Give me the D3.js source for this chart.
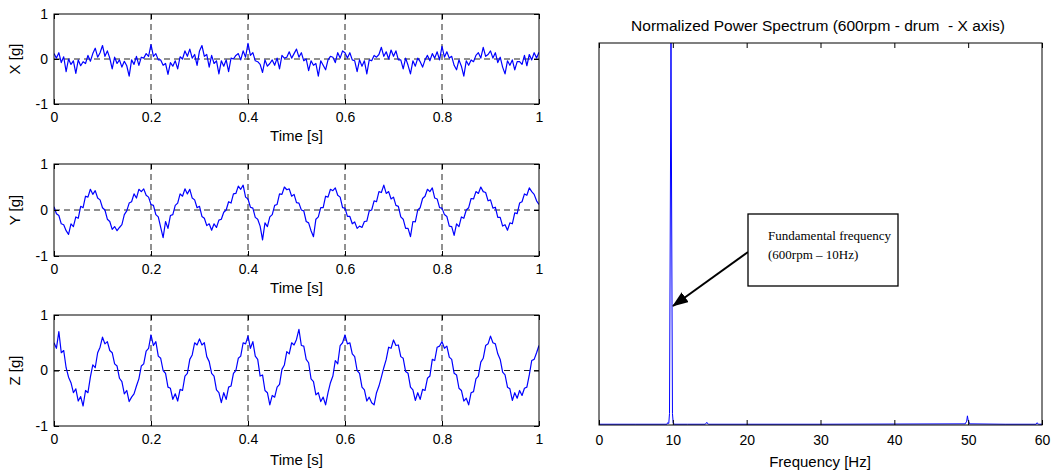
<!DOCTYPE html>
<html>
<head>
<meta charset="utf-8">
<script src="https://cdn.jsdelivr.net/npm/d3@7"></script>
<style>
  body { margin: 0; background: #fff; }
  text { font-family: Arial, "Liberation Sans", sans-serif; fill: #000; }
</style>
</head>
<body>
<svg></svg>
<script>
const width = 1052;
const height = 472;

// accelerometer samples, one every timeStep seconds from 0 to 1 s
const timeStep = 0.005;
const xAccel = [
  0.12, 0.02, 0.14, -0.08, 0.05, -0.28, 0.00, -0.12, -0.04, -0.32, -0.02, -0.15, -0.06, -0.10, 0.08, -0.05, 0.12, 0.24, 0.04, 0.14,
  0.30, 0.06, 0.18, 0.02, -0.22, 0.04, -0.10, -0.02, -0.18, -0.05, -0.15, -0.38, -0.02, -0.12, 0.06, -0.14, 0.04, 0.02, 0.12, 0.06,
  0.32, 0.06, 0.12, -0.02, -0.02, -0.14, -0.10, -0.34, -0.08, -0.16, -0.04, -0.22, 0.05, 0.00, 0.18, 0.06, 0.22, 0.02, 0.10, -0.14,
  0.18, 0.30, 0.06, 0.10, -0.18, 0.08, -0.10, -0.04, -0.33, -0.04, -0.16, -0.02, -0.28, 0.02, 0.00, 0.08, 0.12, -0.02, 0.18, 0.04,
  0.35, 0.08, 0.14, -0.04, -0.06, -0.12, -0.30, -0.02, -0.16, -0.10, -0.02, -0.14, 0.02, -0.22, 0.08, 0.02, 0.04, 0.16, 0.02, 0.12,
  0.22, 0.04, 0.14, -0.04, 0.00, -0.26, -0.04, -0.14, -0.10, -0.38, -0.04, -0.14, -0.24, -0.02, 0.06, 0.04, -0.08, 0.14, 0.02, 0.18,
  0.14, 0.02, 0.14, -0.02, -0.04, -0.28, -0.02, -0.16, -0.04, -0.33, -0.02, -0.04, 0.08, 0.04, 0.10, 0.26, 0.06, 0.16, 0.00, 0.20,
  0.06, 0.18, -0.02, -0.02, -0.22, 0.02, -0.14, -0.33, -0.04, -0.16, 0.02, -0.06, -0.18, -0.02, 0.08, -0.04, 0.12, 0.02, 0.16, -0.02,
  0.28, 0.04, 0.16, 0.02, 0.06, -0.14, -0.24, -0.02, -0.16, -0.38, -0.04, -0.14, -0.02, -0.06, 0.08, 0.14, 0.02, 0.26, 0.06, 0.10,
  0.18, 0.02, 0.14, -0.08, 0.04, -0.18, -0.33, -0.04, -0.14, -0.02, -0.24, -0.06, -0.06, -0.12, 0.08, -0.15, 0.10, -0.02, 0.14, 0.02,
  0.15
];
const yAccel = [
  0.07, -0.08, -0.12, -0.30, -0.32, -0.45, -0.53, -0.30, -0.36, -0.15, -0.18, 0.08, 0.05, 0.30, 0.28, 0.45, 0.34, 0.42, 0.26, 0.22,
  0.05, 0.00, -0.20, -0.25, -0.42, -0.36, -0.45, -0.38, -0.32, -0.10, -0.02, 0.15, 0.18, 0.35, 0.26, 0.45, 0.40, 0.46, 0.32, 0.28,
  0.12, 0.10, -0.10, -0.15, -0.38, -0.60, -0.25, -0.40, -0.12, -0.10, 0.10, 0.15, 0.35, 0.30, 0.46, 0.35, 0.45, 0.26, 0.22, 0.05,
  0.08, -0.14, -0.18, -0.34, -0.30, -0.44, -0.30, -0.38, -0.22, -0.20, -0.05, 0.00, 0.18, 0.15, 0.35, 0.36, 0.52, 0.45, 0.54, 0.28,
  0.24, 0.06, 0.04, -0.16, -0.20, -0.35, -0.65, -0.28, -0.36, -0.15, -0.10, 0.10, 0.12, 0.35, 0.34, 0.50, 0.44, 0.46, 0.30, 0.34,
  0.16, 0.15, 0.00, -0.02, -0.25, -0.28, -0.45, -0.58, -0.20, -0.15, 0.05, 0.05, 0.30, 0.28, 0.45, 0.42, 0.48, 0.32, 0.28, 0.05,
  0.04, -0.14, -0.14, -0.30, -0.26, -0.40, -0.35, -0.38, -0.25, -0.24, -0.02, 0.00, 0.20, 0.18, 0.40, 0.38, 0.54, 0.36, 0.40, 0.24,
  0.28, 0.10, 0.08, -0.15, -0.20, -0.40, -0.40, -0.58, -0.25, -0.26, 0.00, 0.05, 0.25, 0.30, 0.45, 0.40, 0.48, 0.26, 0.24, 0.05,
  0.04, -0.10, -0.14, -0.35, -0.36, -0.55, -0.30, -0.36, -0.15, -0.18, 0.00, 0.05, 0.25, 0.24, 0.40, 0.36, 0.50, 0.40, 0.38, 0.20,
  0.22, 0.04, 0.06, -0.16, -0.16, -0.35, -0.32, -0.44, -0.28, -0.30, -0.06, -0.08, 0.15, 0.18, 0.35, 0.32, 0.48, 0.40, 0.34, 0.20,
  0.12
];
const zAccel = [
  0.50, 0.40, 0.70, 0.32, 0.36, 0.05, -0.12, -0.22, -0.40, -0.33, -0.55, -0.47, -0.64, -0.36, -0.40, -0.12, 0.10, 0.05, 0.32, 0.42,
  0.60, 0.48, 0.52, 0.36, 0.32, 0.12, 0.08, -0.14, -0.20, -0.42, -0.36, -0.56, -0.48, -0.42, -0.28, -0.15, 0.08, 0.12, 0.35, 0.40,
  0.64, 0.45, 0.52, 0.26, 0.22, 0.00, -0.05, -0.30, -0.32, -0.52, -0.42, -0.55, -0.34, -0.36, -0.10, -0.05, 0.20, 0.28, 0.50, 0.46,
  0.57, 0.46, 0.50, 0.25, 0.16, -0.05, -0.10, -0.35, -0.40, -0.58, -0.40, -0.52, -0.30, -0.28, -0.05, 0.00, 0.22, 0.26, 0.50, 0.48,
  0.62, 0.40, 0.52, 0.26, 0.20, -0.10, -0.08, -0.36, -0.40, -0.62, -0.45, -0.48, -0.30, -0.25, 0.02, 0.10, 0.34, 0.30, 0.50, 0.46,
  0.56, 0.74, 0.45, 0.44, 0.20, 0.14, -0.15, -0.20, -0.44, -0.40, -0.56, -0.48, -0.62, -0.40, -0.22, -0.10, 0.18, 0.12, 0.45, 0.50,
  0.64, 0.48, 0.50, 0.30, 0.25, 0.00, -0.05, -0.30, -0.35, -0.55, -0.48, -0.58, -0.62, -0.40, -0.28, -0.12, 0.05, 0.20, 0.42, 0.40,
  0.55, 0.45, 0.46, 0.25, 0.22, -0.02, -0.05, -0.30, -0.35, -0.54, -0.40, -0.52, -0.34, -0.36, -0.14, -0.10, 0.20, 0.18, 0.42, 0.44,
  0.52, 0.40, 0.44, 0.24, 0.20, -0.05, -0.08, -0.32, -0.36, -0.55, -0.50, -0.62, -0.40, -0.38, -0.15, -0.10, 0.15, 0.22, 0.45, 0.48,
  0.62, 0.50, 0.48, 0.30, 0.20, -0.03, -0.08, -0.30, -0.33, -0.54, -0.40, -0.50, -0.36, -0.45, -0.32, -0.30, -0.08, 0.18, 0.20, 0.32,
  0.45
];
const timeTicks = [0, 0.2, 0.4, 0.6, 0.8, 1];
const timeGrid = [0.2, 0.4, 0.6, 0.8];
const gTicks = [-1, 0, 1];

// normalized power spectrum, read at the visible features
const specFreq = [0, 5, 9.2, 9.3, 9.45, 9.55, 9.75, 9.95, 10.05, 10.2, 12, 14.4, 14.6, 14.8, 30, 49.6, 49.8, 49.9, 50.0, 50.2, 55, 59.2, 59.35, 59.5, 60];
const specPower = [0.002, 0.002, 0.002, 0.006, 0.004, 0.03, 1.0, 0.03, 0.006, 0.002, 0.002, 0.002, 0.007, 0.002, 0.002, 0.003, 0.01, 0.024, 0.012, 0.003, 0.002, 0.002, 0.006, 0.002, 0.002];
const freqTicks = [0, 10, 20, 30, 40, 50, 60];

let svg = d3.select("svg")
    .attr("width", width)
    .attr("height", height)

let defs = svg.append("defs");

let xTime = d3.scaleLinear()
    .domain([0, 1])
    .range([54, 539]);

let panels = [
    { id: "px", values: xAccel, label: "X [g]", top: 14, bottom: 104, titleY: 141 },
    { id: "py", values: yAccel, label: "Y [g]", top: 164, bottom: 256, titleY: 293 },
    { id: "pz", values: zAccel, label: "Z [g]", top: 315, bottom: 426, titleY: 465 }
];

panels.forEach(p => {
    let yScale = d3.scaleLinear()
        .domain([-1, 1])
        .range([p.bottom, p.top]);
    let g = svg.append("g");

    // dashed grid
    g.selectAll(".vgrid")
        .data(timeGrid)
        .enter()
        .append("line")
        .attr("x1", d => xTime(d))
        .attr("x2", d => xTime(d))
        .attr("y1", p.top)
        .attr("y2", p.bottom)
        .attr("stroke", "#222")
        .attr("stroke-dasharray", "6,4")
    g.append("line")
        .attr("x1", xTime(0))
        .attr("x2", xTime(1))
        .attr("y1", yScale(0))
        .attr("y2", yScale(0))
        .attr("stroke", "#222")
        .attr("stroke-dasharray", "6,4")

    defs.append("clipPath")
        .attr("id", "clip-" + p.id)
        .append("rect")
        .attr("x", xTime(0))
        .attr("y", p.top)
        .attr("width", xTime(1) - xTime(0))
        .attr("height", p.bottom - p.top)

    let line = d3.line()
        .x((d, i) => xTime(i * timeStep))
        .y(d => yScale(d))
    g.append("path")
        .datum(p.values)
        .attr("clip-path", `url(#clip-${p.id})`)
        .attr("d", line)
        .attr("fill", "none")
        .attr("stroke", "#0000ff")
        .attr("stroke-width", 1.2)
        .attr("stroke-linejoin", "round")

    // axes, ticks pointing inward like the original
    g.append("g")
        .attr("transform", `translate(0, ${p.bottom})`)
        .call(d3.axisBottom(xTime).tickValues(timeTicks).tickFormat(d => String(d))
            .tickSizeInner(-5).tickSizeOuter(0).tickPadding(8))
        .call(a => a.select(".domain").remove())
        .selectAll("text").style("font-size", "14px")
    g.append("g")
        .attr("transform", `translate(0, ${p.top})`)
        .call(d3.axisTop(xTime).tickValues(timeTicks).tickFormat("")
            .tickSizeInner(-5).tickSizeOuter(0))
        .call(a => a.select(".domain").remove())
    g.append("g")
        .attr("transform", `translate(${xTime(0)}, 0)`)
        .call(d3.axisLeft(yScale).tickValues(gTicks).tickFormat(d => String(d))
            .tickSizeInner(-5).tickSizeOuter(0).tickPadding(6))
        .call(a => a.select(".domain").remove())
        .selectAll("text").style("font-size", "14px")
    g.append("g")
        .attr("transform", `translate(${xTime(1)}, 0)`)
        .call(d3.axisRight(yScale).tickValues(gTicks).tickFormat("")
            .tickSizeInner(-5).tickSizeOuter(0))
        .call(a => a.select(".domain").remove())

    g.append("rect")
        .attr("x", xTime(0))
        .attr("y", p.top)
        .attr("width", xTime(1) - xTime(0))
        .attr("height", p.bottom - p.top)
        .attr("fill", "none")
        .attr("stroke", "#000")

    g.append("text")
        .attr("x", (xTime(0) + xTime(1)) / 2)
        .attr("y", p.titleY)
        .style("text-anchor", "middle")
        .style("font-size", "15px")
        .text("Time [s]")

    g.append("text")
        .attr("transform", "rotate(-90)")
        .attr("x", -(p.top + p.bottom) / 2)
        .attr("y", 20)
        .style("text-anchor", "middle")
        .style("font-size", "15px")
        .text(p.label)
});

// power spectrum
let xFreq = d3.scaleLinear()
    .domain([0, 60])
    .range([599, 1042]);
let yPow = d3.scaleLinear()
    .domain([0, 1])
    .range([425, 43]);

let spec = svg.append("g");
defs.append("clipPath")
    .attr("id", "clip-spec")
    .append("rect")
    .attr("x", 599)
    .attr("y", 43)
    .attr("width", 443)
    .attr("height", 382)

let specLine = d3.line()
    .x(d => xFreq(d[0]))
    .y(d => yPow(d[1]))
spec.append("path")
    .datum(d3.zip(specFreq, specPower))
    .attr("clip-path", "url(#clip-spec)")
    .attr("d", specLine)
    .attr("fill", "none")
    .attr("stroke", "#0000ff")
    .attr("stroke-width", 1)

spec.append("g")
    .attr("transform", "translate(0, 425)")
    .call(d3.axisBottom(xFreq).tickValues(freqTicks).tickFormat(d => String(d))
        .tickSizeInner(-5).tickSizeOuter(0).tickPadding(10))
    .call(a => a.select(".domain").remove())
    .selectAll("text").style("font-size", "14px")
spec.append("g")
    .attr("transform", "translate(0, 43)")
    .call(d3.axisTop(xFreq).tickValues(freqTicks).tickFormat("")
        .tickSizeInner(-5).tickSizeOuter(0))
    .call(a => a.select(".domain").remove())

spec.append("rect")
    .attr("x", 599)
    .attr("y", 43)
    .attr("width", 443)
    .attr("height", 382)
    .attr("fill", "none")
    .attr("stroke", "#000")

spec.append("text")
    .attr("x", 820)
    .attr("y", 467)
    .style("text-anchor", "middle")
    .style("font-size", "15px")
    .text("Frequency [Hz]")

spec.append("text")
    .attr("x", 818)
    .attr("y", 31)
    .style("text-anchor", "middle")
    .style("font-size", "15.5px")
    .style("white-space", "pre")
    .text("Normalized Power Spectrum (600rpm - drum  - X axis)")

// annotation
defs.append("marker")
    .attr("id", "arrowhead")
    .attr("markerUnits", "userSpaceOnUse")
    .attr("viewBox", "0 0 16 12")
    .attr("refX", 15)
    .attr("refY", 6)
    .attr("markerWidth", 16)
    .attr("markerHeight", 12)
    .attr("orient", "auto")
    .append("path")
    .attr("d", "M0,0 L16,6 L0,12 Z")
    .attr("fill", "#000")

svg.append("line")
    .attr("x1", 748)
    .attr("y1", 252)
    .attr("x2", 673)
    .attr("y2", 306)
    .attr("stroke", "#000")
    .attr("stroke-width", 2)
    .attr("marker-end", "url(#arrowhead)")

svg.append("rect")
    .attr("x", 748)
    .attr("y", 214)
    .attr("width", 150)
    .attr("height", 72)
    .attr("fill", "#fff")
    .attr("stroke", "#000")
    .attr("stroke-width", 1.3)

svg.append("text")
    .attr("x", 768)
    .attr("y", 240)
    .style("font-family", "'Liberation Serif', 'Times New Roman', serif")
    .style("font-size", "13px")
    .text("Fundamental frequency")
svg.append("text")
    .attr("x", 768)
    .attr("y", 259)
    .style("font-family", "'Liberation Serif', 'Times New Roman', serif")
    .style("font-size", "13px")
    .text("(600rpm – 10Hz)")
</script>
</body>
</html>
